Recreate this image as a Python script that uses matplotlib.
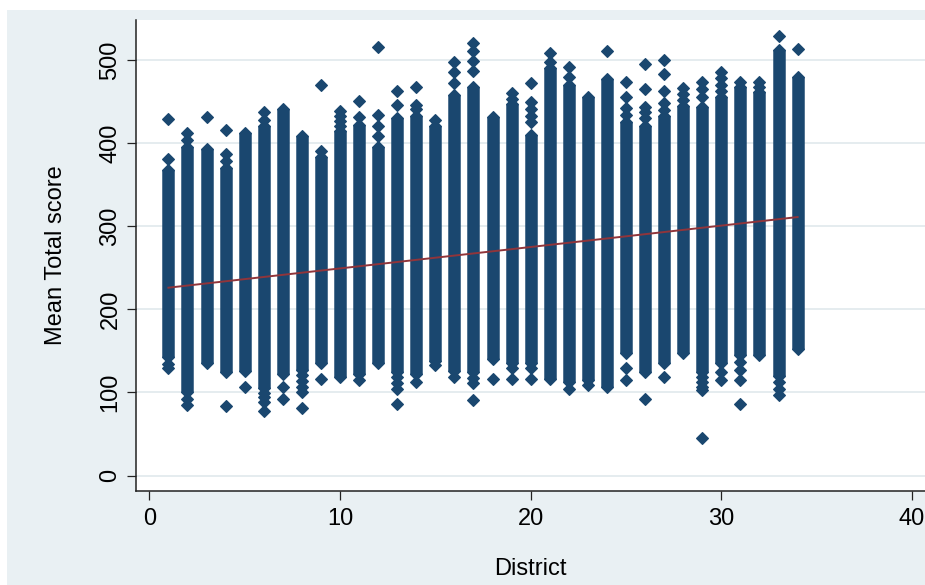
import matplotlib
matplotlib.use("Agg")
import matplotlib.pyplot as plt
from matplotlib.patches import Rectangle

plt.rcParams['font.family'] = ['Liberation Sans', 'DejaVu Sans']

# data: one dense column of points per district,
# plus the separate points above / below each column
district = list(range(1, 35))
col_top = [368, 395, 393, 370, 412, 420, 441, 408, 383, 415, 422, 395, 430, 432, 420, 458, 468,
           431, 447, 410, 490, 470, 455, 477, 425, 420, 432, 445, 443, 455, 468, 462, 512, 480]
col_bottom = [142, 100, 135, 125, 126, 105, 122, 127, 135, 118, 122, 135, 125, 122, 138, 126, 124,
              140, 135, 135, 116, 112, 115, 107, 147, 125, 135, 147, 125, 135, 145, 145, 120, 152]
upper_pts = [[381, 429], [404, 412], [431], [379, 387, 416], [], [428, 437], [], [],
             [390, 470], [421, 427, 433, 438], [431, 451], [409, 420, 434, 516], [446, 463],
             [441, 446, 468], [428], [472, 485, 498], [487, 499, 511, 520], [], [453, 460],
             [425, 433, 441, 449, 472], [497, 508], [479, 491], [], [511], [434, 442, 455, 473],
             [430, 437, 444, 465, 495], [440, 448, 463, 483, 500], [452, 459, 466],
             [456, 465, 474], [463, 470, 478, 485], [474], [468, 474], [529], [513]]
lower_pts = [[134, 129], [92, 85], [], [84], [107], [99, 94, 88, 78], [106, 92],
             [121, 114, 107, 101, 81], [116], [], [115], [], [118, 111, 104, 86], [113], [133],
             [119], [117, 111, 91], [116], [129, 116], [129, 116], [], [104], [109], [], [129, 115],
             [92], [118], [], [118, 112, 107, 103, 45], [125, 115], [137, 127, 115, 86], [],
             [112, 104, 97], []]

# linear fit line
fit_x = [1, 34]
fit_y = [226, 311]

navy = '#1a476f'
maroon = '#90353b'
bg = '#e9f0f3'

fig = plt.figure(figsize=(9.25, 5.85), dpi=100)
fig.patch.set_facecolor('white')
fig.add_artist(Rectangle((7 / 925, 0), 1, 575 / 585, transform=fig.transFigure,
                         facecolor=bg, edgecolor='none', zorder=0))

ax = fig.add_axes([136 / 925, 94 / 585, 789 / 925, 471 / 585])
ax.set_facecolor('white')

ax.vlines(district, col_bottom, col_top, colors=navy, lw=9.0, zorder=2)

xs, ys = [], []
for d, top, bot, up, lo in zip(district, col_top, col_bottom, upper_pts, lower_pts):
    for v in [top, bot] + up + lo:
        xs.append(d)
        ys.append(v)
ax.plot(xs, ys, 'D', ms=6.6, color=navy, mec=navy, mew=0.8, zorder=2)

ax.plot(fit_x, fit_y, color=maroon, lw=1.4, zorder=3)

ax.set_xlim(-0.7, 40.68)
ax.set_ylim(-18.65, 548.1)
ax.set_xticks([0, 10, 20, 30, 40])
ax.set_yticks([0, 100, 200, 300, 400, 500])

ax.yaxis.grid(True, color='#e3ebee', lw=1.3)
ax.set_axisbelow(True)

for s in ['top', 'right']:
    ax.spines[s].set_visible(False)
for s in ['left', 'bottom']:
    ax.spines[s].set_linewidth(1.1)
    ax.spines[s].set_color('#222222')

ax.tick_params(axis='both', length=6.5, width=0.9, color='#222222', labelsize=17)
ax.tick_params(axis='x', pad=6)
ax.tick_params(axis='y', pad=4)
plt.setp(ax.get_yticklabels(), rotation=90, va='center')

ax.set_xlabel('District', fontsize=17)
ax.set_ylabel('Mean Total score', fontsize=17)
ax.xaxis.set_label_coords(0.4994, -0.1783)
ax.xaxis.label.set_va('baseline')
ax.yaxis.set_label_coords(-0.0938, 0.5)
ax.yaxis.label.set_va('baseline')

fig.savefig('out.png', dpi=100, facecolor=fig.get_facecolor())
